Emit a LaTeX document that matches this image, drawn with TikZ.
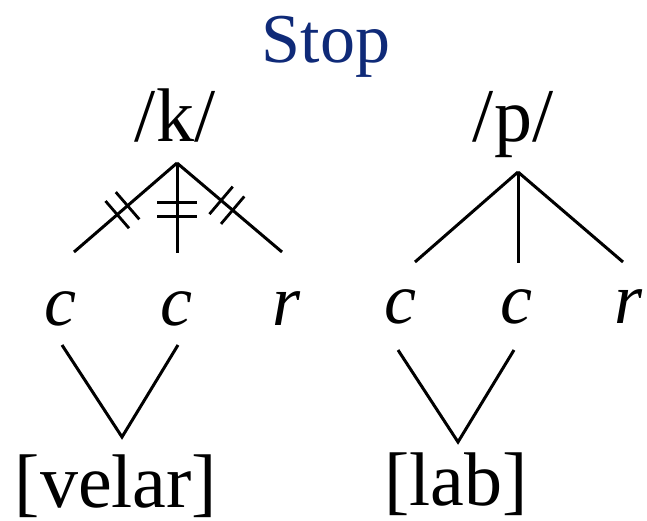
\documentclass[tikz,border=0pt]{standalone}
\usepackage{fontspec}
\setmainfont{Liberation Serif}
\usepackage{tikz}
\usetikzlibrary{decorations.markings}
\definecolor{figNavy}{HTML}{0F2A78}

\newcommand{\tickbar}[1]{\draw[line width=2.8pt] (0,-#1) -- (0,#1);}

\begin{document}
\begin{tikzpicture}[
  x=1pt, y=-1pt,
  every node/.style={inner sep=0pt, anchor=base},
  title/.style={font=\fontsize{70}{84}\selectfont, figNavy},
  phon/.style={font=\fontsize{76}{90}\selectfont},
  slot/.style={font=\fontsize{72}{86}\selectfont\itshape},
  branch/.style={draw, line width=3pt},
  delink/.style n args={3}{branch, postaction={decorate},
    decoration={markings,
      mark=at position #1 with {\tickbar{#3}},
      mark=at position #2 with {\tickbar{#3}}}},
]
\useasboundingbox (0,0) rectangle (647,520);

% === title ===
\node[title] (title) at (326,62) {Stop};

% === /k/ (left) ===
\node[phon] (k) at (175,141) {/k/};
\coordinate (k-top) at (177,163);
\coordinate (k-l) at (74,252);
\coordinate (k-m) at (177,253);
\coordinate (k-r) at (282,252);

\node[slot] (k-c1) at (60,325) {c};
\node[slot] (k-c2) at (176,325) {c};
\node[slot] (k-rt) at (287,325) {r};

\coordinate (k-v1) at (62,345);
\coordinate (k-vb) at (122,437);
\coordinate (k-v2) at (178,345);
\node[phon] (velar) at (116,507) {[velar]};

\draw[delink={0.48}{0.58}{18pt}] (k-top) -- (k-l);
\draw[delink={0.44}{0.59}{20pt}] (k-top) -- (k-m);
\draw[delink={0.42}{0.53}{18pt}] (k-top) -- (k-r);
\draw[branch] (k-v1) -- (k-vb) -- (k-v2);

% === /p/ (right) ===
\node[phon] (p) at (513,141) {/p/};
\coordinate (p-top) at (518,172);
\coordinate (p-l) at (415,262);
\coordinate (p-m) at (518,263);
\coordinate (p-r) at (623,262);

\node[slot] (p-c1) at (400,323) {c};
\node[slot] (p-c2) at (516,323) {c};
\node[slot] (p-rt) at (628,323) {r};

\coordinate (p-v1) at (398,350);
\coordinate (p-vb) at (458,442);
\coordinate (p-v2) at (514,350);
\node[phon] (lab) at (456,505) {[lab]};

\draw[branch] (p-top) -- (p-l);
\draw[branch] (p-top) -- (p-m);
\draw[branch] (p-top) -- (p-r);
\draw[branch] (p-v1) -- (p-vb) -- (p-v2);
\end{tikzpicture}
\end{document}
